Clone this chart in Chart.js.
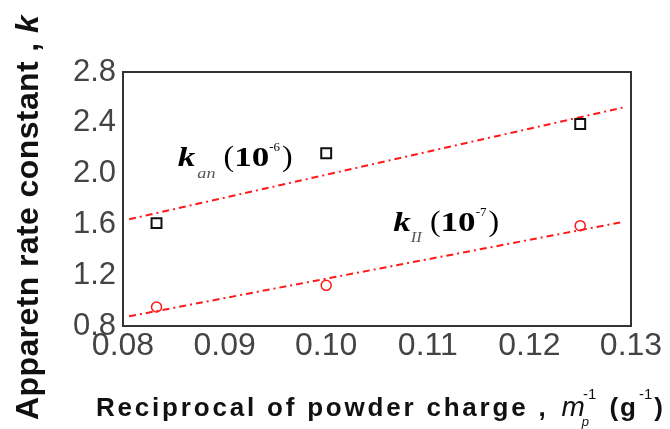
<!DOCTYPE html>
<html>
<head>
<meta charset="utf-8">
<script src="https://cdn.jsdelivr.net/npm/chart.js@4.4.1/dist/chart.umd.min.js"></script>
<style>
  html, body { margin: 0; padding: 0; background: #fff; }
  #wrap { width: 670px; height: 429px; position: relative; }
</style>
</head>
<body>
<div id="wrap"><canvas id="c" width="670" height="429"></canvas></div>
<script>
// Reciprocal of powder charge (1/g)
const chargeRecip = [0.0833, 0.100, 0.125];
// Apparent rate constants
const kAn = [1.61, 2.16, 2.39];   // x 1e-6
const kII = [0.95, 1.12, 1.59];   // x 1e-7
// Linear fit end points
const fitX = [0.0806, 0.1292];
const fitAn = [1.64, 2.52];
const fitII = [0.876, 1.619];
// Axis ticks
const xTicks = [0.08, 0.09, 0.10, 0.11, 0.12, 0.13];
const yTicks = [0.8, 1.2, 1.6, 2.0, 2.4, 2.8];

const pts = (xs, ys) => xs.map((x, i) => ({ x: x, y: ys[i] }));

const SANS = '"Liberation Sans", Arial, sans-serif';
const SERIF = '"Liberation Serif", "Times New Roman", serif';

// Draws a run of text pieces one after another; each piece may shift vertically
function drawRuns(ctx, x, y, runs) {
  let cx = x;
  runs.forEach(r => {
    ctx.save();
    ctx.font = r.font;
    ctx.fillStyle = r.color || '#000';
    ctx.letterSpacing = r.ls || '0px';
    const sx = r.sx || 1;
    ctx.translate(cx + (r.dx || 0), y + (r.dy || 0));
    ctx.scale(sx, 1);
    ctx.fillText(r.t, 0, 0);
    const w = ctx.measureText(r.t).width * sx;
    ctx.restore();
    cx += w + (r.dx || 0) + (r.after || 0);
  });
  return cx;
}

const decorations = {
  id: 'decorations',
  afterDatasetsDraw(chart) {
    const { ctx, chartArea: a, scales } = chart;
    ctx.save();
    // frame
    ctx.strokeStyle = '#333';
    ctx.lineWidth = 2;
    ctx.strokeRect(a.left, a.top, a.right - a.left, a.bottom - a.top);

    ctx.textBaseline = 'alphabetic';
    // series labels, anchored in data space
    const l1x = scales.x.getPixelForValue(0.0854), l1y = scales.y.getPixelForValue(2.06);
    drawRuns(ctx, l1x, l1y, [
      { t: 'k', font: 'italic bold 28px ' + SERIF, sx: 1.25, after: 2 },
      { t: 'an', font: 'italic 14px ' + SERIF, color: '#555', dy: 12, sx: 1.3, after: 8 },
      { t: '(', font: '29px ' + SERIF, sx: 1.1, after: 0 },
      { t: '10', font: 'bold 27px ' + SERIF, sx: 1.3, after: 0 },
      { t: '-6', font: '13px ' + SERIF, dy: -15, sx: 1.0, after: 2 },
      { t: ')', font: '29px ' + SERIF, sx: 1.1 }
    ]);
    const l2x = scales.x.getPixelForValue(0.1066), l2y = scales.y.getPixelForValue(1.548);
    drawRuns(ctx, l2x, l2y, [
      { t: 'k', font: 'italic bold 28px ' + SERIF, sx: 1.25, after: 0 },
      { t: 'II', font: 'italic 14px ' + SERIF, color: '#555', dy: 11, sx: 1.2, after: 8 },
      { t: '(', font: '29px ' + SERIF, sx: 1.1, after: 0 },
      { t: '10', font: 'bold 27px ' + SERIF, sx: 1.3, after: 0 },
      { t: '-7', font: '13px ' + SERIF, dy: -15, sx: 1.0, after: 2 },
      { t: ')', font: '29px ' + SERIF, sx: 1.1 }
    ]);

    // y axis title (rotated)
    ctx.save();
    ctx.translate(38, 420);
    ctx.rotate(-Math.PI / 2);
    drawRuns(ctx, 0, 0, [
      { t: 'Apparetn rate constant , ', font: 'bold 32px ' + SANS, color: '#111', ls: '0.4px' },
      { t: 'k', font: 'italic bold 32px ' + SANS, color: '#111' }
    ]);
    ctx.restore();

    // x axis title
    drawRuns(ctx, 96, 416, [
      { t: 'Reciprocal of powder charge , ', font: 'bold 26px ' + SANS, color: '#111', ls: '2.8px', after: 3 },
      { t: 'm', font: 'italic 28px ' + SANS, color: '#111', after: 0 },
      { t: 'p', font: 'italic 13px ' + SANS, color: '#111', dy: 10, dx: -3, after: -6 },
      { t: '-1', font: '15px ' + SANS, color: '#111', dy: -17, after: 13 },
      { t: '(g', font: 'bold 26px ' + SANS, color: '#111', ls: '2px', after: 1 },
      { t: '-1', font: '15px ' + SANS, color: '#111', dy: -17, after: 2 },
      { t: ')', font: 'bold 26px ' + SANS, color: '#111' }
    ]);
    ctx.restore();
  }
};

const fitLine = (data) => ({
  type: 'line',
  data: data,
  borderColor: '#ff1a1a',
  borderWidth: 2,
  borderDash: [7, 4, 2, 4],
  pointRadius: 0,
  fill: false,
  tension: 0
});

new Chart(document.getElementById('c'), {
  type: 'scatter',
  data: {
    datasets: [
      {
        label: 'k_an',
        data: pts(chargeRecip, kAn),
        pointStyle: 'rect',
        pointRadius: 7,
        pointBorderWidth: 2,
        pointBorderColor: '#111',
        pointBackgroundColor: 'rgba(255,255,255,0)'
      },
      {
        label: 'k_II',
        data: pts(chargeRecip, kII),
        pointStyle: 'circle',
        pointRadius: 5,
        pointBorderWidth: 1.5,
        pointBorderColor: '#ff1a1a',
        pointBackgroundColor: 'rgba(255,255,255,0)'
      },
      Object.assign({ label: 'fit an' }, fitLine(pts(fitX, fitAn))),
      Object.assign({ label: 'fit II' }, fitLine(pts(fitX, fitII)))
    ]
  },
  options: {
    responsive: false,
    animation: false,
    devicePixelRatio: 1,
    layout: { padding: { left: 0, top: 72, right: 39, bottom: 0 } },
    plugins: { legend: { display: false }, tooltip: { enabled: false } },
    scales: {
      x: {
        type: 'linear',
        min: xTicks[0], max: xTicks[xTicks.length - 1],
        afterBuildTicks: s => { s.ticks = xTicks.map(v => ({ value: v })); },
        afterFit: s => { s.height = 103; },
        grid: { display: false, drawTicks: false },
        border: { display: false },
        ticks: {
          padding: 1,
          color: '#444',
          font: { family: SANS, size: 32 },
          maxRotation: 0,
          callback: v => v.toFixed(2)
        }
      },
      y: {
        type: 'linear',
        min: yTicks[0], max: yTicks[yTicks.length - 1],
        afterBuildTicks: s => { s.ticks = yTicks.map(v => ({ value: v })); },
        afterFit: s => { s.width = 123; },
        grid: { display: false, drawTicks: false },
        border: { display: false },
        ticks: {
          padding: 7,
          color: '#444',
          font: { family: SANS, size: 31 },
          callback: v => v.toFixed(1)
        }
      }
    }
  },
  plugins: [decorations]
});
</script>
</body>
</html>
